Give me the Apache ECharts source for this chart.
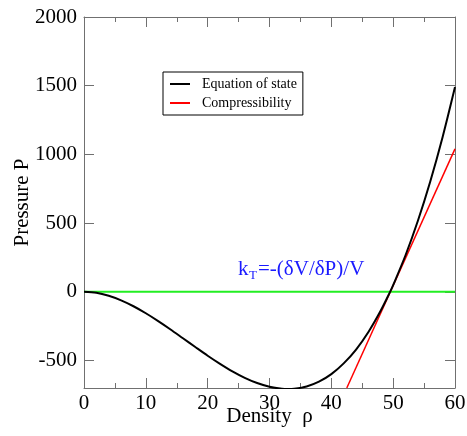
<!DOCTYPE html>
<html>
<head>
<meta charset="utf-8">
<script src="https://cdn.jsdelivr.net/npm/echarts@6/dist/echarts.min.js"></script>
<style>html,body{margin:0;padding:0;background:#fff;}#c{width:467px;height:436px;}</style>
</head>
<body>
<div id="c"></div>
<script>
// Data
var densityEOS = [0,2,4,6,8,10,12,14,16,18,20,22,24,26,28,30,32,33,34,36,38,40,42,44,46,48,49.5,50,52,54,56,58,60];
var pressureEOS = [0,-7,-29,-62,-105,-156,-213,-274,-338,-402,-465,-524,-579,-626,-664,-691,-706,-708,-706,-689,-654,-599,-521,-420,-292,-136,0,49,266,517,803,1127,1490];
var densityComp = [42.5,60];
var pressureComp = [-700,1040];
var densityZero = [0,60];
var pressureZero = [0,0];
var legendNames = ['Equation of state','Compressibility'];

function pairs(xs, ys){ return xs.map(function(x,i){ return [x, ys[i]]; }); }

var FONT = "'Liberation Serif','Times New Roman',serif";
var AX = '#707070';
var chart = echarts.init(document.getElementById('c'), null, {renderer:'canvas'});

function xAx(pos, labels){
  return {
    type:'value', position:pos, min:0, max:60, interval:10,
    name: labels ? 'Density  \u03c1' : '', nameLocation:'middle', nameGap:18, nameMoveOverlap:false,
    nameTextStyle:{fontFamily:FONT, fontSize:21, color:'#000'},
    axisLine:{show:true, onZero:false, lineStyle:{color:AX, width:1}},
    axisTick:{show:true, inside:true, length:10, lineStyle:{color:AX, width:1}},
    minorTick:{show:true, splitNumber:2, length:5, lineStyle:{color:AX, width:1}},
    axisLabel:{show:labels, fontFamily:FONT, fontSize:21, color:'#000', margin:5,
      formatter:function(v){ return String(v); }},
    splitLine:{show:false}, minorSplitLine:{show:false}
  };
}
function yAx(pos, labels){
  return {
    type:'value', position:pos, min:-700, max:2000, splitNumber:5,
    name: labels ? 'Pressure P' : '', nameLocation:'middle', nameGap:51, nameMoveOverlap:false,
    nameTextStyle:{fontFamily:FONT, fontSize:21, color:'#000'},
    axisLine:{show:true, onZero:false, lineStyle:{color:AX, width:1}},
    axisTick:{show:true, inside:true, length:10, lineStyle:{color:AX, width:1}},
    axisLabel:{show:labels, fontFamily:FONT, fontSize:21, color:'#000', margin:7,
      showMinLabel:false,
      formatter:function(v){ return String(v); }},
    splitLine:{show:false}
  };
}

chart.setOption({
  animation:false,
  backgroundColor:'#fff',
  grid:{left:84, right:12, top:17, bottom:48, containLabel:false, outerBoundsMode:'none'},
  xAxis:[xAx('bottom', true), xAx('top', false)],
  yAxis:[yAx('left', true), yAx('right', false)],
  legend:{
    data:legendNames, orient:'vertical', left:163, top:72,
    padding:[5,6,5,7], itemGap:5, itemWidth:20, itemHeight:14, icon:'path://M0,0L20,0L20,2L0,2Z',
    borderColor:'#000', borderWidth:1, backgroundColor:'#fff',
    textStyle:{fontFamily:FONT, fontSize:14, color:'#000', padding:[0,0,0,7]},
    selectedMode:false
  },
  series:[
    {name:'zero', type:'line', data:pairs(densityZero, pressureZero), symbol:'none',
     lineStyle:{color:'#22ee22', width:2}, z:1},
    {name:legendNames[0], type:'line', data:pairs(densityEOS, pressureEOS), symbol:'none', smooth:0.3,
     color:'#000', lineStyle:{color:'#000', width:2}, z:3},
    {name:legendNames[1], type:'line', data:pairs(densityComp, pressureComp), symbol:'none',
     color:'#ff0000', lineStyle:{color:'#ff0000', width:1.5}, z:2}
  ],
  graphic:[
    {type:'text', left:238, top:259, style:{text:'k', fontFamily:FONT, fontSize:21, fill:'#1a1aff'}},
    {type:'text', left:249, top:269, style:{text:'T', fontFamily:FONT, fontSize:13, fill:'#1a1aff'}},
    {type:'text', left:258, top:259, style:{text:'=-(\u03b4V/\u03b4P)/V', fontFamily:FONT, fontSize:21, fill:'#1a1aff'}}
  ]
});
</script>
</body>
</html>
